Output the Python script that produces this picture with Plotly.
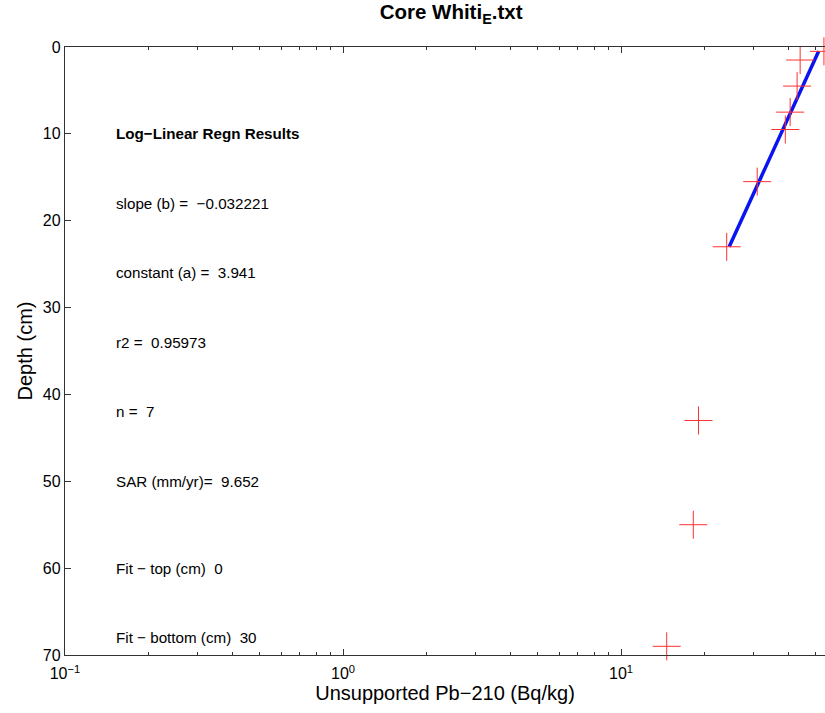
import plotly.graph_objects as go

# Data
pb210 = [53.7, 44.1, 43.0, 40.6, 39.0, 30.9, 24.0, 19.0, 18.2, 14.6]
depth = [0.5, 1.5, 4.5, 7.5, 9.5, 15.5, 23.0, 43.0, 55.0, 69.0]

fit_x = [51.4, 24.5]
fit_depth = [0.5, 23.0]

x_tickvals = [0.1, 1, 10]
x_ticktext = ["10<sup>−1</sup>", "10<sup>0</sup>", "10<sup>1</sup>"]
x_minor = [0.2, 0.3, 0.4, 0.5, 0.6, 0.7, 0.8, 0.9,
           2, 3, 4, 5, 6, 7, 8, 9, 20, 30, 40, 50]
y_tickvals = [0, 10, 20, 30, 40, 50, 60, 70]

ann_text = ["<b>Log−Linear Regn Results</b>",
            "slope (b) =  −0.032221",
            "constant (a) =  3.941",
            "r2 =  0.95973",
            "n =  7",
            "SAR (mm/yr)=  9.652",
            "Fit − top (cm)  0",
            "Fit − bottom (cm)  30"]
ann_depth = [10, 18, 26, 34, 42, 50, 60, 68]

FONT = "Liberation Sans, Arial, Helvetica, sans-serif"

fig = go.Figure()
fig.add_trace(go.Scatter(
    x=fit_x, y=fit_depth, mode="lines",
    line=dict(color="#0a14f0", width=3.5),
    showlegend=False))
fig.add_trace(go.Scatter(
    x=pb210, y=depth, mode="markers",
    marker=dict(symbol="cross-thin-open", size=20, color="#ff3030",
                line=dict(color="#ff3030", width=1)),
    showlegend=False, cliponaxis=False))

for t, d in zip(ann_text, ann_depth):
    fig.add_annotation(x=-0.825, y=d, xref="x", yref="y", text=t,
                       showarrow=False, xanchor="left", yanchor="middle",
                       font=dict(size=15.2, color="black", family=FONT))

fig.update_layout(
    width=825, height=713,
    margin=dict(l=65, r=0, t=47, b=58),
    paper_bgcolor="white", plot_bgcolor="white",
    font=dict(family=FONT, color="black"),
    title=dict(text="<b>Core Whiti<sub>E</sub>.txt</b>",
               x=0.508, xref="paper", xanchor="center",
               y=0.993, yanchor="top",
               font=dict(size=20.5, family=FONT, color="black")),
)

fig.update_xaxes(
    type="log", range=[-1, -1 + 760 / 278],
    tickmode="array", tickvals=x_tickvals, ticktext=x_ticktext,
    ticks="inside", ticklen=6, tickcolor="#333", tickwidth=1,
    minor=dict(tickmode="array", tickvals=x_minor, ticks="inside",
               ticklen=3, tickcolor="#333", tickwidth=1),
    showline=True, linecolor="#333", linewidth=1.3, mirror="ticks",
    showgrid=False, zeroline=False, ticklabelstandoff=4,
    tickfont=dict(size=16, family=FONT, color="black"),
    title=dict(text="Unsupported Pb−210 (Bq/kg)",
               font=dict(size=20, family=FONT, color="black"), standoff=2),
)
fig.update_yaxes(
    range=[70, 0],
    tickmode="array", tickvals=y_tickvals,
    ticks="inside", ticklen=6, tickcolor="#333", tickwidth=1,
    showline=True, linecolor="#333", linewidth=1.3, mirror=False,
    showgrid=False, zeroline=False,
    tickfont=dict(size=16, family=FONT, color="black"),
    title=dict(text="Depth (cm)",
               font=dict(size=20, family=FONT, color="black"), standoff=4),
)

fig.write_html("out.html")
